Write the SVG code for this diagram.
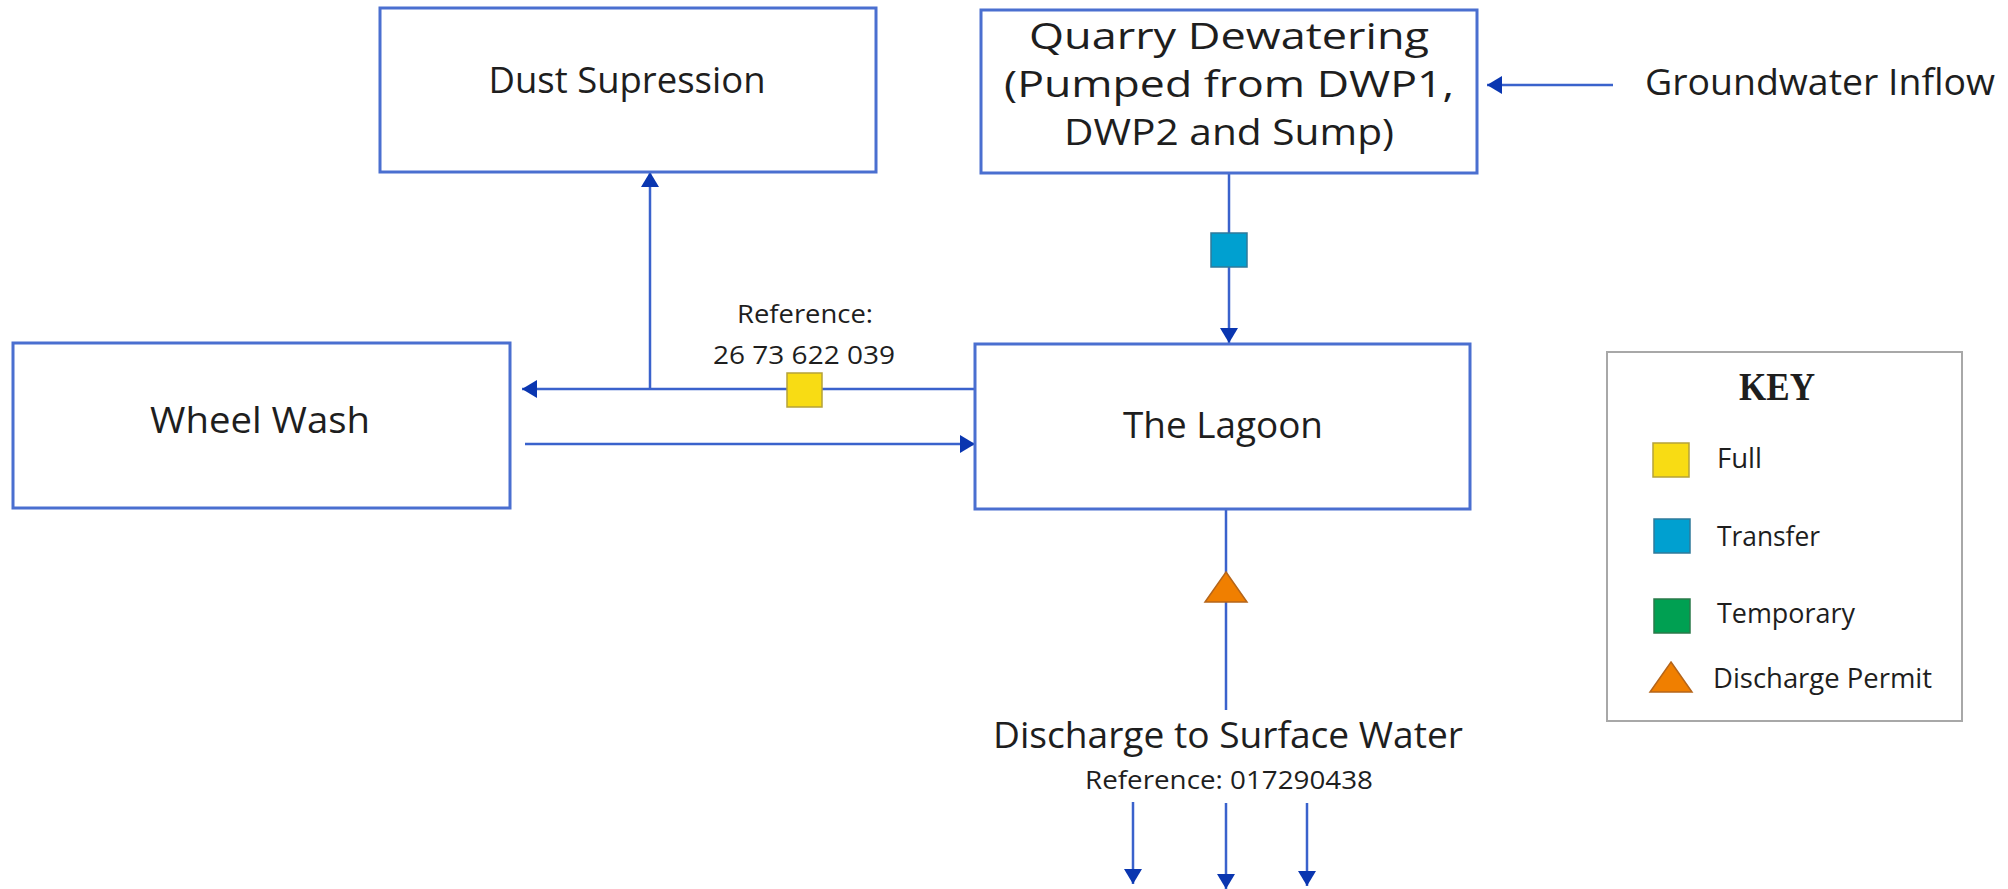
<svg xmlns="http://www.w3.org/2000/svg" width="2008" height="889" viewBox="0 0 2008 889">
  <style>
    .box { fill: #ffffff; stroke: #4a6fd0; stroke-width: 3; }
    .lbl { font-family: "Open Sans", "Liberation Sans", sans-serif; font-size: 36px; fill: #1e1e1e; }
    .ref { font-family: "Open Sans", "Liberation Sans", sans-serif; font-size: 26px; fill: #1e1e1e; }
    .key { font-family: "Open Sans", "Liberation Sans", sans-serif; font-size: 27px; fill: #1e1e1e; }
    .flow { fill: none; stroke: #3a62cc; stroke-width: 2.5; }
    .arr { marker-end: url(#head); }
    .full { fill: #f8dc14; stroke: #b5a23a; stroke-width: 1.5; }
    .transfer { fill: #00a0d0; stroke: #2f7a9a; stroke-width: 1.5; }
    .temporary { fill: #00a052; stroke: #2a7a4a; stroke-width: 1.5; }
    .permit { fill: #f07f00; stroke: #b5651a; stroke-width: 1.5; }
  </style>
  <defs>
    <marker id="head" markerUnits="userSpaceOnUse" markerWidth="16" markerHeight="18" refX="15" refY="9" orient="auto">
      <path d="M0,0 L15,9 L0,18 Z" fill="#0a36b0"/>
    </marker>
  </defs>

  <rect width="2008" height="889" fill="#ffffff"/>

  <!-- flow connectors -->
  <g id="connectors">
    <line class="flow arr" x1="1613" y1="85" x2="1487" y2="85"/>
    <line class="flow arr" x1="1229" y1="173" x2="1229" y2="343"/>
    <line class="flow arr" x1="975" y1="389" x2="522" y2="389"/>
    <line class="flow arr" x1="650" y1="389" x2="650" y2="172"/>
    <line class="flow arr" x1="525" y1="444" x2="975" y2="444"/>
    <line class="flow" x1="1226" y1="510" x2="1226" y2="710"/>
    <line class="flow arr" x1="1133" y1="802" x2="1133" y2="884"/>
    <line class="flow arr" x1="1226" y1="803" x2="1226" y2="889"/>
    <line class="flow arr" x1="1307" y1="803" x2="1307" y2="886"/>
    <!-- permit / licence markers sitting on the flows -->
    <rect class="transfer" x="1211" y="233" width="36" height="34"/>
    <rect class="full" x="787" y="373" width="35" height="34"/>
    <polygon class="permit" points="1226,572 1247,602 1205,602"/>
  </g>

  <g id="dust-supression">
    <rect class="box" x="380" y="8" width="496" height="164"/>
    <text class="lbl" x="627" y="93" text-anchor="middle" textLength="277" lengthAdjust="spacingAndGlyphs">Dust Supression</text>
  </g>

  <g id="quarry-dewatering">
    <rect class="box" x="981" y="10" width="496" height="163"/>
    <text class="lbl" x="1229" y="49" text-anchor="middle" textLength="400" lengthAdjust="spacingAndGlyphs">Quarry Dewatering</text>
    <text class="lbl" x="1229" y="97" text-anchor="middle" textLength="450" lengthAdjust="spacingAndGlyphs">(Pumped from DWP1,</text>
    <text class="lbl" x="1229" y="145" text-anchor="middle" textLength="330" lengthAdjust="spacingAndGlyphs">DWP2 and Sump)</text>
  </g>

  <g id="groundwater-inflow">
    <text class="lbl" x="1645" y="95" textLength="350" lengthAdjust="spacingAndGlyphs">Groundwater Inflow</text>
  </g>

  <g id="wheel-wash">
    <rect class="box" x="13" y="343" width="497" height="165"/>
    <text class="lbl" x="260" y="433" text-anchor="middle" textLength="220" lengthAdjust="spacingAndGlyphs">Wheel Wash</text>
  </g>

  <g id="the-lagoon">
    <rect class="box" x="975" y="344" width="495" height="165"/>
    <text class="lbl" x="1223" y="438" text-anchor="middle" textLength="200" lengthAdjust="spacingAndGlyphs">The Lagoon</text>
  </g>

  <g id="full-reference">
    <text class="ref" x="805" y="323" text-anchor="middle" textLength="136" lengthAdjust="spacingAndGlyphs">Reference:</text>
    <text class="ref" x="804" y="364" text-anchor="middle" textLength="182" lengthAdjust="spacingAndGlyphs">26 73 622 039</text>
  </g>

  <g id="surface-water-discharge">
    <text class="lbl" x="1228" y="748" text-anchor="middle" textLength="470" lengthAdjust="spacingAndGlyphs">Discharge to Surface Water</text>
    <text class="ref" x="1229" y="789" text-anchor="middle" textLength="288" lengthAdjust="spacingAndGlyphs">Reference: 017290438</text>
  </g>

  <g id="key">
    <rect x="1607" y="352" width="355" height="369" fill="#ffffff" stroke="#a8a8a8" stroke-width="2"/>
    <text x="1777" y="400" text-anchor="middle" font-family="'Liberation Serif', serif" font-weight="bold" font-size="40" fill="#1e1e1e" textLength="76" lengthAdjust="spacingAndGlyphs">KEY</text>
    <rect class="full" x="1653" y="443" width="36" height="34"/>
    <text class="key" x="1717" y="468" textLength="45" lengthAdjust="spacingAndGlyphs">Full</text>
    <rect class="transfer" x="1654" y="519" width="36" height="34"/>
    <text class="key" x="1717" y="546" textLength="103" lengthAdjust="spacingAndGlyphs">Transfer</text>
    <rect class="temporary" x="1654" y="599" width="36" height="34"/>
    <text class="key" x="1717" y="623" textLength="138" lengthAdjust="spacingAndGlyphs">Temporary</text>
    <polygon class="permit" points="1671,662 1692,692 1650,692"/>
    <text class="key" x="1713" y="688" textLength="219" lengthAdjust="spacingAndGlyphs">Discharge Permit</text>
  </g>
</svg>
